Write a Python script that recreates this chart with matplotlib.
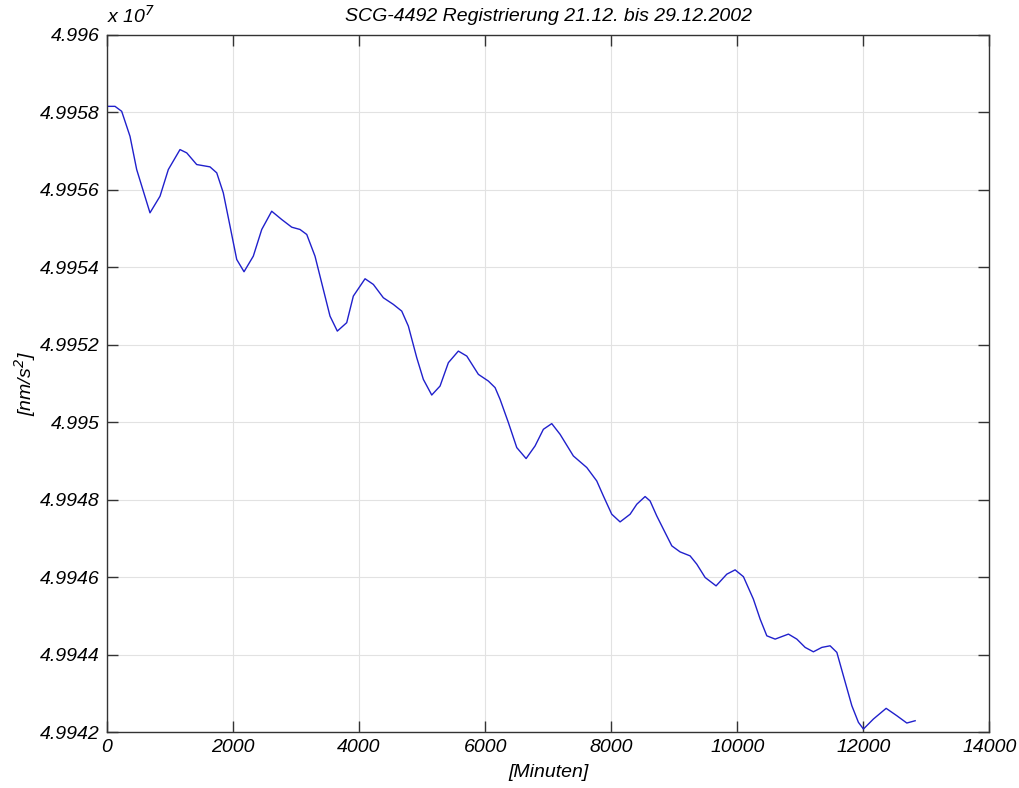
import matplotlib
matplotlib.use("Agg")
import matplotlib.pyplot as plt
import numpy as np

# SCG-4492 gravity record, minutes since start vs. gravity in nm/s^2
minutes = [
    0, 127, 233, 365, 471, 682, 841, 973, 1158, 1265, 1423, 1634, 1741, 1845,
    1952, 2058, 2174, 2321, 2455, 2613, 2772, 2931, 3062, 3169, 3300, 3432,
    3538, 3654, 3803, 3908, 4094, 4226, 4384, 4543, 4676, 4781, 4914, 5019,
    5152, 5284, 5416, 5574, 5708, 5892, 6050, 6157, 6236, 6368, 6501, 6649,
    6791, 6923, 7056, 7188, 7399, 7612, 7770, 7875, 8008, 8140, 8299, 8405,
    8537, 8616, 8722, 8854, 8961, 9092, 9251, 9357, 9489, 9663, 9833, 9965,
    10097, 10255, 10362, 10468, 10600, 10811, 10944, 11076, 11207, 11341,
    11472, 11579, 11683, 11817, 11921, 12001, 12159, 12361, 12531, 12689, 12821,
]
gravity = [
    49958150, 49958150, 49958022, 49957377, 49956519, 49955402, 49955830,
    49956519, 49957034, 49956949, 49956648, 49956588, 49956434, 49955918,
    49955057, 49954198, 49953881, 49954283, 49954972, 49955443, 49955229,
    49955031, 49954972, 49954843, 49954283, 49953424, 49952736, 49952349,
    49952566, 49953252, 49953700, 49953553, 49953210, 49953038, 49952865,
    49952478, 49951663, 49951103, 49950699, 49950931, 49951534, 49951833,
    49951704, 49951232, 49951060, 49950890, 49950588, 49949987, 49949342,
    49949059, 49949384, 49949814, 49949961, 49949685, 49949126, 49948827,
    49948481, 49948094, 49947622, 49947424, 49947622, 49947880, 49948079,
    49947965, 49947578, 49947150, 49946805, 49946650, 49946547, 49946333,
    49945990, 49945773, 49946075, 49946186, 49946010, 49945430, 49944915,
    49944484, 49944399, 49944528, 49944399, 49944185, 49944071, 49944185,
    49944226, 49944056, 49943452, 49942679, 49942251, 49942078, 49942336,
    49942612, 49942421, 49942233, 49942292,
]

x_ticks = [0, 2000, 4000, 6000, 8000, 10000, 12000, 14000]
y_tick_labels = ["4.9942", "4.9944", "4.9946", "4.9948", "4.995",
                 "4.9952", "4.9954", "4.9956", "4.9958", "4.996"]
scale = 1e7

plt.rcParams["font.family"] = ["Liberation Sans", "DejaVu Sans"]
plt.rcParams["font.style"] = "italic"
plt.rcParams["font.size"] = 14

fig = plt.figure(figsize=(10.19, 7.88), dpi=100)
ax = fig.add_axes([0.105, 0.071, 0.866, 0.885])

ax.plot(np.array(minutes), np.array(gravity) / scale, color="#2020cc",
        linewidth=1.0, solid_joinstyle="round")

y_ticks = [float(t) for t in y_tick_labels]
ax.set_xlim(x_ticks[0], x_ticks[-1])
ax.set_ylim(y_ticks[0], y_ticks[-1])
ax.set_xticks(x_ticks)
ax.set_xticklabels([str(t) for t in x_ticks])
ax.set_yticks(y_ticks)
ax.set_yticklabels(y_tick_labels)

ax.grid(True, color="#e2e2e2", linewidth=0.8, linestyle="-")
ax.set_axisbelow(True)
ax.tick_params(direction="in", length=8, width=1, color="#333333",
               top=True, right=True, labelsize=14, pad=5)
for spine in ax.spines.values():
    spine.set_color("#333333")
    spine.set_linewidth(1.0)

ax.set_title("SCG-4492 Registrierung 21.12. bis 29.12.2002", fontsize=14,
             pad=10)
ax.set_xlabel("[Minuten]", fontsize=14, labelpad=6)
ax.set_ylabel("[nm/s$^{2}$]", fontsize=14, labelpad=2)
ax.text(0.0, 1.012, r"x 10$^{7}$", transform=ax.transAxes, fontsize=14,
        ha="left", va="bottom")

fig.savefig("out.png", dpi=100, facecolor="white")
